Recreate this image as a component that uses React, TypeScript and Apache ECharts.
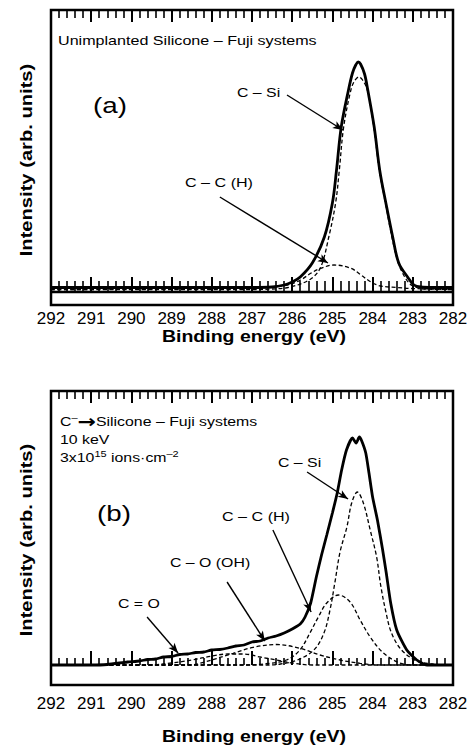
import React, { useEffect, useRef } from "react";
import * as echarts from "echarts";

// ---------- Data (binding energy in eV, intensity in arb. units) ----------
// Panel (a): unimplanted silicone
const aTotalEV = [292.0, 289.0, 287.0, 286.5, 286.2, 286.0, 285.8, 285.5, 285.2, 285.0, 284.9, 284.78, 284.6, 284.5, 284.42, 284.36, 284.3, 284.2, 284.12, 283.96, 283.82, 283.67, 283.5, 283.35, 283.13, 282.97, 282.8, 282.5, 282.0];
const aTotalI = [3.5, 3.5, 3.5, 4, 6, 9, 14, 28, 54, 88, 120, 164, 201, 218, 226, 229, 227, 217, 201, 164, 120, 88, 54, 28, 14, 6, 4, 3.5, 3.5];

const aCSiEV = [292.0, 287.0, 286.5, 286.04, 285.54, 285.29, 285.09, 284.92, 284.83, 284.72, 284.54, 284.45, 284.34, 284.25, 284.13, 283.97, 283.83, 283.68, 283.52, 283.36, 283.17, 283.0, 282.7, 282.0];
const aCSiI = [1.5, 1.5, 2, 4, 12, 24, 54, 88, 120, 164, 201, 210, 214, 211, 201, 164, 120, 88, 54, 28, 12, 5, 2, 1.5];

const aCCEV = [292.0, 287.0, 286.54, 286.12, 285.79, 285.54, 285.29, 284.96, 284.54, 284.29, 284.04, 283.8, 283.38, 283.05, 282.0];
const aCCI = [1.5, 2, 4, 6, 11, 17.7, 22.7, 26, 22.7, 16, 9, 5, 3.5, 2.5, 1.5];

// Panel (b): C- implanted silicone, 10 keV, 3x10^15 ions/cm2
const bTotalEV = [292.0, 291.0, 290.6, 290.1, 289.8, 289.6, 289.4, 289.2, 289.0, 288.8, 288.6, 288.4, 288.2, 288.0, 287.8, 287.6, 287.4, 287.2, 287.0, 286.8, 286.6, 286.4, 286.2, 286.0, 285.8, 285.68, 285.54, 285.4, 285.27, 285.14, 285.0, 284.88, 284.77, 284.65, 284.5, 284.41, 284.33, 284.27, 284.17, 284.09, 284.0, 283.88, 283.75, 283.66, 283.55, 283.4, 283.15, 282.9, 282.65, 282.0];
const bTotalI = [0, 0, 0.5, 3, 4, 5.5, 6, 8, 8.5, 10.5, 11, 12.5, 13, 15, 15.5, 17, 19, 20, 23, 24, 27, 29, 32, 36, 41, 48, 62, 88, 110, 130, 152, 172, 195, 215, 227, 222, 228, 224, 212, 192, 168, 145, 115, 92, 62, 35, 15, 5, 0, 0];

const bCSiEV = [292.0, 286.6, 286.29, 285.87, 285.46, 285.21, 285.06, 284.94, 284.81, 284.64, 284.52, 284.38, 284.23, 284.06, 283.9, 283.8, 283.68, 283.53, 283.28, 282.9, 282.5, 282.0];
const bCSiI = [0, 0, 1, 5, 15, 32, 55, 82, 113, 138, 162, 173, 162, 135, 108, 80, 55, 32, 15, 4, 1, 0];

const bCCEV = [292.0, 287.2, 286.72, 286.14, 285.81, 285.56, 285.35, 285.14, 284.85, 284.56, 284.31, 284.06, 283.73, 283.32, 282.9, 282.0];
const bCCI = [0, 0, 1, 5, 15, 32, 48, 62, 70, 63, 45, 28, 12, 2, 0, 0];

const bCOEV = [292.0, 288.6, 288.29, 287.47, 286.97, 286.39, 285.81, 285.31, 284.81, 284.31, 283.8, 282.0];
const bCOI = [0, 0, 1.7, 11.7, 17.7, 20.5, 16.7, 10, 5, 1.7, 0, 0];

const bCdOEV = [292.0, 289.6, 289.0, 288.5, 288.0, 287.6, 287.2, 286.8, 286.4, 286.0, 285.5, 282.0];
const bCdOI = [0, 0, 2, 5, 9, 11, 11, 8, 5, 2, 0, 0];

// Annotation arrows: [fromEV, fromI, toEV, toI]
const aArrows = [
  [286.13, 196, 284.74, 161],
  [287.8, 94, 285.11, 28],
];
const bArrows = [
  [285.63, 193, 284.61, 166],
  [286.48, 135, 285.53, 53],
  [287.62, 83, 286.68, 24],
  [289.61, 48, 288.84, 12],
];

const FONT = '"Liberation Sans", Arial, Helvetica, sans-serif';

function zip(xs: number[], ys: number[]) {
  return xs.map((x, i) => [x, ys[i]]);
}

function arrowData(list: number[][]) {
  return list.map((a) => [
    { coord: [a[0], a[1]], symbol: "none" },
    { coord: [a[2], a[3]], symbol: "arrow" },
  ]);
}

function xAxes(gridIndex: number, bottomMajor: number, bottomMinor: number, labelMargin: number) {
  const common = {
    gridIndex,
    type: "value",
    min: 282,
    max: 292,
    interval: 1,
    inverse: true,
    axisLine: { show: false },
    splitLine: { show: false },
  };
  return [
    {
      ...common,
      position: "bottom",
      axisTick: { show: true, inside: true, length: bottomMajor, lineStyle: { color: "#000", width: 2 } },
      minorTick: { show: true, splitNumber: 5, length: bottomMinor, lineStyle: { color: "#000", width: 1.6 } },
      axisLabel: { show: true, margin: labelMargin, fontSize: 17, color: "#000", fontFamily: FONT },
    },
    {
      ...common,
      position: "top",
      axisTick: { show: true, inside: true, length: 12, lineStyle: { color: "#000", width: 2 } },
      minorTick: { show: true, splitNumber: 5, length: 8, lineStyle: { color: "#000", width: 1.6 } },
      axisLabel: { show: false },
    },
  ];
}

function txt(x: number, y: number, text: string, size: number, scaleX: number, bold = false, extra: any = {}) {
  return {
    type: "text",
    x,
    y,
    scaleX,
    silent: true,
    ...extra,
    style: {
      text,
      font: `${bold ? "bold " : ""}${size}px ${FONT}`,
      fill: "#000",
      textAlign: extra.align || "left",
      textVerticalAlign: "middle",
      ...(extra.style || {}),
    },
  };
}

export default function App() {
  const ref = useRef<HTMLDivElement>(null);
  useEffect(() => {
    if (!ref.current) return;
    const chart = echarts.init(ref.current, undefined, { renderer: "svg" });
    const dashed = { color: "#000", width: 1.3, type: [4, 2.5] };
    const solid = { color: "#000", width: 2.8 };
    const lineBase = { type: "line", showSymbol: false, symbol: "none", smooth: 0.35, silent: true };
    const arrowLine = {
      silent: true,
      symbol: ["none", "arrow"],
      symbolSize: [6, 10],
      lineStyle: { color: "#000", width: 1.4, type: "solid" },
      label: { show: false },
      emphasis: { disabled: true },
    };

    const option: any = {
      animation: false,
      backgroundColor: "#fff",
      grid: [
        { left: 51, top: 10, width: 402, height: 295, show: true, borderColor: "#000", borderWidth: 2.5, backgroundColor: "transparent" },
        { left: 51, top: 391, width: 402, height: 294, show: true, borderColor: "#000", borderWidth: 2.5, backgroundColor: "transparent" },
      ],
      xAxis: [...xAxes(0, 14, 10, 5), ...xAxes(1, 14, 7, 10)],
      yAxis: [
        { gridIndex: 0, type: "value", min: -14, max: 281, show: false },
        { gridIndex: 1, type: "value", min: -20, max: 274, show: false },
      ],
      series: [
        // panel (a)
        { ...lineBase, xAxisIndex: 0, yAxisIndex: 0, data: [[292, -1], [282, -1]], smooth: false, lineStyle: { color: "#000", width: 2.4 } },
        { ...lineBase, xAxisIndex: 0, yAxisIndex: 0, data: zip(aCSiEV, aCSiI), lineStyle: dashed },
        { ...lineBase, xAxisIndex: 0, yAxisIndex: 0, data: zip(aCCEV, aCCI), lineStyle: dashed },
        {
          ...lineBase, xAxisIndex: 0, yAxisIndex: 0, data: zip(aTotalEV, aTotalI), lineStyle: solid,
          markLine: { ...arrowLine, data: arrowData(aArrows) },
        },
        // panel (b)
        { ...lineBase, xAxisIndex: 2, yAxisIndex: 1, data: zip(bCdOEV, bCdOI), lineStyle: dashed },
        { ...lineBase, xAxisIndex: 2, yAxisIndex: 1, data: zip(bCOEV, bCOI), lineStyle: dashed },
        { ...lineBase, xAxisIndex: 2, yAxisIndex: 1, data: zip(bCCEV, bCCI), lineStyle: dashed },
        { ...lineBase, xAxisIndex: 2, yAxisIndex: 1, data: zip(bCSiEV, bCSiI), lineStyle: dashed },
        {
          ...lineBase, xAxisIndex: 2, yAxisIndex: 1, data: zip(bTotalEV, bTotalI), lineStyle: solid, smooth: 0.2,
          markLine: { ...arrowLine, data: arrowData(bArrows) },
        },
      ],
      graphic: [
        // panel (a)
        txt(58, 41, "Unimplanted Silicone \u2013 Fuji systems", 13, 1.24),
        txt(93, 105, "(a)", 22, 1.26),
        txt(237, 93, "C \u2013 Si", 13, 1.22),
        txt(185, 183, "C \u2013 C (H)", 13, 1.24),
        txt(254, 337, "Binding energy (eV)", 16, 1.22, true, { align: "center" }),
        txt(27, 160, "Intensity (arb. units)", 16, 1.26, true, { align: "center", rotation: Math.PI / 2 }),
        // panel (b)
        {
          type: "text", x: 60, y: 422, scaleX: 1.22, silent: true,
          style: {
            text: "{n|C}{s|\u2013}{a|\u2192}{n|Silicone \u2013 Fuji systems}",
            textVerticalAlign: "middle",
            textAlign: "left",
            rich: {
              n: { font: `13px ${FONT}`, fill: "#000" },
              a: { font: `bold 18px "DejaVu Sans", ${FONT}`, fill: "#000" },
              s: { font: `9px ${FONT}`, fill: "#000", padding: [0, 0, 8, 0] },
            },
          },
        },
        txt(60, 440, "10 keV", 13, 1.22),
        {
          type: "text", x: 60, y: 458, scaleX: 1.22, silent: true,
          style: {
            text: "{n|3x10}{s|15}{n| ions\u00b7cm}{s|\u20132}",
            textVerticalAlign: "middle",
            textAlign: "left",
            rich: {
              n: { font: `13px ${FONT}`, fill: "#000" },
              s: { font: `9px ${FONT}`, fill: "#000", padding: [0, 0, 9, 0] },
            },
          },
        },
        txt(97, 513, "(b)", 22, 1.26),
        txt(278, 463, "C \u2013 Si", 13, 1.22),
        txt(222, 517, "C \u2013 C (H)", 13, 1.24),
        txt(170, 563, "C \u2013 O (OH)", 13, 1.22),
        txt(118, 604, "C = O", 13, 1.22),
        txt(254, 737, "Binding energy (eV)", 16, 1.22, true, { align: "center" }),
        txt(27, 540, "Intensity (arb. units)", 16, 1.26, true, { align: "center", rotation: Math.PI / 2 }),
      ],
    };
    chart.setOption(option);
    return () => chart.dispose();
  }, []);
  return (
    <div
      ref={ref}
      style={{ position: "fixed", left: 0, top: 0, width: 473, height: 755, background: "#fff" }}
    />
  );
}
